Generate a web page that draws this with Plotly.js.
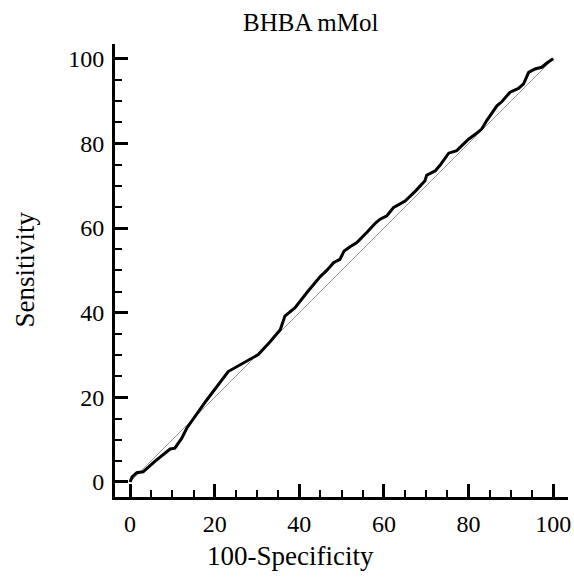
<!DOCTYPE html>
<html>
<head>
<meta charset="utf-8">
<script src="https://cdn.plot.ly/plotly-3.0.1.min.js"></script>
<style>html,body{margin:0;padding:0;background:#fff;}#chart{width:574px;height:577px;}</style>
</head>
<body>
<div id="chart"></div>
<script>
// 100-Specificity (false positive rate, %)
const fpr = [0,0.5,1.6,3.1,6,9.5,10.6,12.2,13.4,18,23.2,26.0,28.0,30.3,33,35.5,36.6,37.8,39.0,42,45,46.5,48.1,49.6,50.6,52.0,53.6,56,58,59.1,60.7,62.3,65.0,67.5,69.7,70.1,72.1,73.3,75.3,77.2,80.0,81.5,83.1,84.3,86.7,87.9,89.8,91.8,93.0,94.2,95.7,97.3,98.5,100];
// Sensitivity (%)
const tpr = [0,1.2,2.2,2.4,5.0,7.8,8.0,10.3,12.7,19.2,26.1,27.7,28.9,30.1,33.0,36.0,39.2,40.1,41.2,45.0,48.6,50.0,51.8,52.6,54.6,55.6,56.6,59.0,61.2,62.1,62.9,64.9,66.4,68.8,71.2,72.5,73.5,74.9,77.7,78.3,81.0,82.1,83.4,85.4,88.9,89.9,92.1,93.0,94.1,96.8,97.6,98.0,99.0,100];
// Reference diagonal
const diagX = [0,100];
const diagY = [0,100];
const tickVals = [0,20,40,60,80,100];
const tickText = ["0","20","40","60","80","100"];
const titleText = "BHBA mMol";
const xTitle = "100-Specificity";
const yTitle = "Sensitivity";

const font = "Liberation Serif, Times New Roman, serif";
const axisCommon = {
  range: [-3.55, 103.5],
  tickvals: tickVals, ticktext: tickText,
  ticks: "inside", ticklen: 13, tickwidth: 3, tickcolor: "#000",
  showline: true, linewidth: 3, linecolor: "#000", mirror: false,
  showgrid: false, zeroline: false,
  minor: {dtick: 5, tick0: 0, ticks: "inside", ticklen: 7, tickwidth: 2, tickcolor: "#000", showgrid: false},
  tickfont: {family: font, size: 24, color: "#000"},
  fixedrange: true
};

const data = [
  {x: diagX, y: diagY, mode: "lines", line: {color: "#999", width: 1}, hoverinfo: "skip"},
  {x: fpr, y: tpr, mode: "lines", line: {color: "#000", width: 3}}
];

const layout = {
  width: 574, height: 577,
  margin: {l: 115, r: 6, t: 44, b: 80},
  paper_bgcolor: "#fff", plot_bgcolor: "#fff",
  showlegend: false,
  font: {family: font, color: "#000"},
  xaxis: Object.assign({}, axisCommon, {ticklabelstandoff: 3}),
  yaxis: Object.assign({}, axisCommon, {ticklabelstandoff: 3}),
  annotations: [
    {text: titleText, xref: "paper", yref: "paper", x: 0.433, y: 1, yshift: 22, xanchor: "center", yanchor: "middle", showarrow: false, font: {family: font, size: 25, color: "#000"}},
    {text: xTitle, xref: "paper", yref: "paper", x: 0.388, y: 0, yshift: -59, xanchor: "center", yanchor: "middle", showarrow: false, font: {family: font, size: 27, color: "#000"}},
    {text: yTitle, xref: "paper", yref: "paper", x: 0, xshift: -91, y: 0.5, yshift: 1, xanchor: "center", yanchor: "middle", textangle: -90, showarrow: false, font: {family: font, size: 27, color: "#000"}}
  ]
};

Plotly.newPlot("chart", data, layout, {displayModeBar: false, staticPlot: true});
</script>
</body>
</html>
